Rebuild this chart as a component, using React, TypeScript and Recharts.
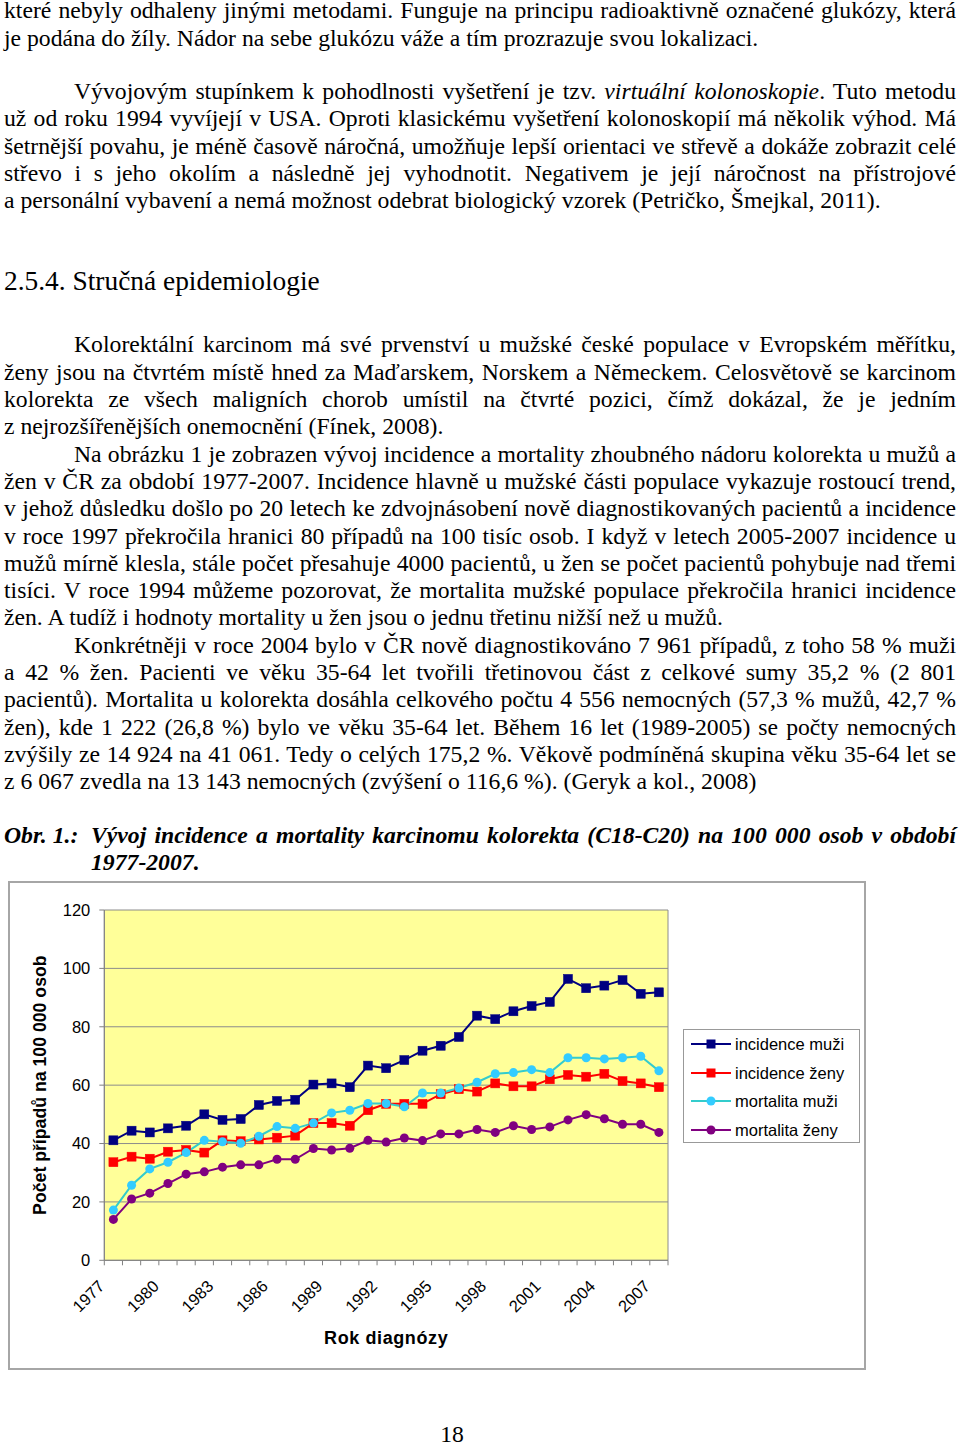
import React from 'react';
import { LineChart, Line, XAxis, YAxis, CartesianGrid, Legend } from 'recharts';

const years = ['1977','1978','1979','1980','1981','1982','1983','1984','1985','1986','1987','1988','1989','1990','1991','1992','1993','1994','1995','1996','1997','1998','1999','2000','2001','2002','2003','2004','2005','2006','2007'];
const incidenceMuzi = [41.1,44.4,43.8,45.2,46.1,50.0,48.1,48.4,53.2,54.6,55.0,60.2,60.6,59.3,66.7,65.8,68.6,71.8,73.5,76.5,83.8,82.6,85.3,87.1,88.5,96.4,93.2,94.1,96.0,91.3,91.8];
const incidenceZeny = [33.6,35.5,34.8,37.2,37.8,36.9,41.1,40.8,41.4,42.0,42.7,47.0,47.0,46.1,51.4,53.6,53.6,53.6,56.9,58.6,57.8,60.6,59.6,59.6,62.0,63.5,62.9,63.9,61.4,60.6,59.3];
const mortalitaMuzi = [17.2,25.7,31.3,33.6,36.9,41.1,40.6,40.1,42.5,45.8,45.2,47.0,50.5,51.4,53.7,53.7,52.6,57.3,57.3,59.0,61.0,63.9,64.3,65.3,64.3,69.4,69.4,69.0,69.4,69.9,64.9];
const mortalitaZeny = [14.0,21.0,23.0,26.3,29.5,30.3,31.9,32.7,32.7,34.6,34.6,38.3,37.8,38.4,41.1,40.5,41.9,41.0,43.3,43.3,44.8,43.8,46.1,44.8,45.7,48.1,49.9,48.5,46.6,46.6,43.8];
const yTicks = [0, 20, 40, 60, 80, 100, 120];
const seriesNames = ['incidence muži', 'incidence ženy', 'mortalita muži', 'mortalita ženy'];

const data = years.map((y, i) => ({
  year: y,
  im: incidenceMuzi[i],
  iz: incidenceZeny[i],
  mm: mortalitaMuzi[i],
  mz: mortalitaZeny[i],
}));

const SANS = '"Liberation Sans", Arial, sans-serif';
const SERIF = '"Liberation Serif", "Times New Roman", serif';

const PLOT_W = 564;
const HALF_BAND = PLOT_W / years.length / 2;

const seriesStyle = [
  { key: 'im', line: '#000080', marker: '#000080', shape: 'square' },
  { key: 'iz', line: '#FF0000', marker: '#FF0000', shape: 'square' },
  { key: 'mm', line: '#33CCCC', marker: '#33CCFF', shape: 'circle' },
  { key: 'mz', line: '#800080', marker: '#800080', shape: 'circle' },
];

const squareDot = (color: string) => (props: any) => {
  const { cx, cy, index } = props;
  if (cx == null || cy == null) return <g key={index} />;
  return <rect key={index} x={cx - 4.5} y={cy - 4.5} width={9} height={9} fill={color} stroke={color} strokeWidth={0.5} />;
};

const XTick = (props: any) => {
  const { x, y, payload, index } = props;
  const half = HALF_BAND;
  const left = x - half;
  const ax = x - 8;
  const ay = y + 22;
  return (
    <g>
      <line x1={left} y1={y - 5} x2={left} y2={y} stroke="#808080" strokeWidth={1} />
      {index === years.length - 1 ? (
        <line x1={x + half} y1={y - 5} x2={x + half} y2={y} stroke="#808080" strokeWidth={1} />
      ) : null}
      {index % 3 === 0 ? (
        <text x={ax} y={ay} transform={`rotate(-45 ${ax} ${ay})`} textAnchor="end" fontSize={16.5} fontFamily={SANS} fill="#000">
          {payload.value}
        </text>
      ) : null}
    </g>
  );
};

const LegendBox = () => (
  <div style={{ width: 177, height: 114, border: '1px solid #999', boxSizing: 'border-box', background: '#fff', fontFamily: SANS, fontSize: 16.5, color: '#000' }}>
    {seriesNames.map((n, i) => {
      const s = seriesStyle[i];
      return (
        <div key={n} style={{ height: 28.5, position: 'relative' }}>
          <svg width={50} height={28} style={{ position: 'absolute', left: 0, top: 0 }}>
            <line x1={7} y1={14} x2={47} y2={14} stroke={s.line} strokeWidth={2} />
            {s.shape === 'square' ? (
              <rect x={22.5} y={9.5} width={9} height={9} fill={s.marker} />
            ) : (
              <circle cx={27} cy={14} r={4.5} fill={s.marker} />
            )}
          </svg>
          <span style={{ position: 'absolute', left: 51, top: 0, lineHeight: '28px', whiteSpace: 'nowrap' }}>{n}</span>
        </div>
      );
    })}
  </div>
);

type TL = { y: number; text: React.ReactNode; indent?: boolean; last?: boolean };

const BODY = 23.7;
const BODY_STEP = 27.3;
const LH = 18;
const SHIFT = 2;
const topFor = (yc: number, fs: number) => yc + SHIFT - ((LH - 1.107 * fs) / 2 + 0.661 * fs);

const block1: TL[] = [
  { y: 11, text: 'které nebyly odhaleny jinými metodami. Funguje na principu radioaktivně označené glukózy, která' },
  { y: 38.3, text: 'je podána do žíly. Nádor na sebe glukózu váže a tím prozrazuje svou lokalizaci.', last: true },
  { y: 91.5, indent: true, text: <>Vývojovým stupínkem k pohodlnosti vyšetření je tzv. <i>virtuální kolonoskopie</i>. Tuto metodu</> },
  { y: 118.8, text: 'už od roku 1994 vyvíjejí v USA. Oproti klasickému vyšetření kolonoskopií má několik výhod. Má' },
  { y: 146.1, text: 'šetrnější povahu, je méně časově náročná, umožňuje lepší orientaci ve střevě a dokáže zobrazit celé' },
  { y: 173.4, text: 'střevo i s\u00a0jeho okolím a následně jej vyhodnotit. Negativem je její náročnost na přístrojové' },
  { y: 200.7, text: 'a personální vybavení a nemá možnost odebrat biologický vzorek (Petričko, Šmejkal, 2011).', last: true },
];

const block2Texts: { text: string; indent?: boolean; last?: boolean }[] = [
  { indent: true, text: 'Kolorektální karcinom má své prvenství u mužské české populace v\u00a0Evropském měřítku,' },
  { text: 'ženy jsou na čtvrtém místě hned za Maďarskem, Norskem a Německem. Celosvětově se karcinom' },
  { text: 'kolorekta ze všech maligních chorob umístil na čtvrté pozici, čímž dokázal, že je jedním' },
  { text: 'z\u00a0nejrozšířenějších onemocnění (Fínek, 2008).', last: true },
  { indent: true, text: 'Na obrázku 1 je zobrazen vývoj incidence a mortality zhoubného nádoru kolorekta u mužů a' },
  { text: 'žen v ČR za období 1977-2007. Incidence hlavně u mužské části populace vykazuje rostoucí trend,' },
  { text: 'v\u00a0jehož důsledku došlo po 20 letech ke zdvojnásobení nově diagnostikovaných pacientů a incidence' },
  { text: 'v roce 1997 překročila hranici 80 případů na 100 tisíc osob. I když v letech 2005-2007 incidence u' },
  { text: 'mužů mírně klesla, stále počet přesahuje 4000 pacientů, u žen se počet pacientů pohybuje nad třemi' },
  { text: 'tisíci. V roce 1994 můžeme pozorovat, že mortalita mužské populace překročila hranici incidence' },
  { text: 'žen. A tudíž i hodnoty mortality u žen jsou o jednu třetinu nižší než u mužů.', last: true },
  { indent: true, text: 'Konkrétněji v roce 2004 bylo v ČR nově diagnostikováno 7\u00a0961 případů, z toho 58 % muži' },
  { text: 'a 42 % žen. Pacienti ve věku 35-64 let tvořili třetinovou část z\u00a0celkové sumy 35,2 % (2\u00a0801' },
  { text: 'pacientů). Mortalita u kolorekta dosáhla celkového počtu 4\u00a0556 nemocných (57,3 % mužů, 42,7 %' },
  { text: 'žen), kde 1\u00a0222 (26,8 %) bylo ve věku 35-64 let. Během 16 let (1989-2005) se počty nemocných' },
  { text: 'zvýšily ze 14\u00a0924 na 41\u00a0061. Tedy o celých 175,2 %. Věkově podmíněná skupina věku 35-64 let se' },
  { text: 'z\u00a06\u00a0067 zvedla na 13\u00a0143 nemocných (zvýšení o 116,6 %). (Geryk a kol., 2008)', last: true },
];
const block2: TL[] = block2Texts.map((t, i) => ({ ...t, y: 345 + BODY_STEP * i }));

const TextLine = ({ l, fs = BODY, style }: { l: TL; fs?: number; style?: React.CSSProperties }) => {
  const left = l.indent ? 74 : 4;
  return (
    <div
      style={{
        position: 'absolute',
        left,
        top: topFor(l.y, fs),
        width: 956 - left,
        fontSize: fs,
        lineHeight: `${LH}px`,
        height: LH,
        fontFamily: SERIF,
        color: '#000',
        textAlign: l.last ? 'left' : 'justify',
        textAlignLast: l.last ? 'left' : 'justify',
        ...style,
      } as React.CSSProperties}
    >
      {l.text}
    </div>
  );
};

export default function App() {
  return (
    <div style={{ position: 'absolute', left: 0, top: 0, width: 960, height: 1446, background: '#fff', overflow: 'hidden' }}>
      {block1.map((l, i) => <TextLine key={'a' + i} l={l} />)}
      <TextLine l={{ y: 282, text: '2.5.4. Stručná epidemiologie', last: true }} fs={27.4} />
      {block2.map((l, i) => <TextLine key={'b' + i} l={l} />)}
      <div style={{ position: 'absolute', left: 4, top: topFor(836, BODY), fontSize: BODY, lineHeight: `${LH}px`, height: LH, fontFamily: SERIF, fontWeight: 'bold', fontStyle: 'italic' }}>Obr. 1.:</div>
      <TextLine l={{ y: 836, text: 'Vývoj incidence a mortality karcinomu kolorekta (C18-C20) na 100\u00a0000 osob v\u00a0období' }} style={{ left: 91, width: 865, fontWeight: 'bold', fontStyle: 'italic' }} />
      <TextLine l={{ y: 863, text: '1977-2007.', last: true }} style={{ left: 91, width: 865, fontWeight: 'bold', fontStyle: 'italic' }} />

      <div style={{ position: 'absolute', left: 8, top: 881, width: 858, height: 489, border: '2px solid #a6a6a6', boxSizing: 'border-box', background: '#fff' }} />
      <div style={{ position: 'absolute', left: 9, top: 882 }}>
        <LineChart width={856} height={487} data={data} margin={{ top: 28, right: 197, bottom: 0, left: 0 }}>
          <CartesianGrid
            fill="#FFFF99"
            fillOpacity={1}
            stroke="#8c8c8c"
            horizontal={true}
            vertical={true}
            verticalCoordinatesGenerator={({ offset }: any) => [offset.left, offset.left + offset.width]}
          />
          <XAxis
            dataKey="year"
            type="category"
            interval={0}
            height={108.7}
            padding={{ left: HALF_BAND, right: HALF_BAND }}
            tickSize={5}
            tickMargin={0}
            tickLine={false}
            axisLine={{ stroke: '#808080' }}
            tick={<XTick />}
            label={{ value: 'Rok diagnózy', position: 'insideBottom', offset: 25, style: { fontFamily: SANS, fontSize: 18, letterSpacing: 0.6, fontWeight: 'bold', fill: '#000' } }}
          />
          <YAxis
            type="number"
            domain={[0, 120]}
            ticks={yTicks}
            width={95.3}
            tickSize={5}
            tickMargin={9}
            tickLine={{ stroke: '#808080' }}
            axisLine={{ stroke: '#808080' }}
            tick={{ fill: '#000', fontSize: 16.5, fontFamily: SANS }}
            label={{ value: 'Počet případů na 100 000 osob', angle: -90, position: 'insideLeft', offset: 31, style: { fontFamily: SANS, fontSize: 17.7, fontWeight: 'bold', fill: '#000', textAnchor: 'middle' } }}
          />
          <Legend
            layout="vertical"
            align="center"
            verticalAlign="middle"
            content={() => <LegendBox />}
            wrapperStyle={{ position: 'absolute', left: 674, top: 147, width: 177, height: 114 }}
          />
          <Line type="linear" dataKey="im" name={seriesNames[0]} stroke={seriesStyle[0].line} strokeWidth={2} dot={squareDot(seriesStyle[0].marker)} isAnimationActive={false} />
          <Line type="linear" dataKey="iz" name={seriesNames[1]} stroke={seriesStyle[1].line} strokeWidth={2} dot={squareDot(seriesStyle[1].marker)} isAnimationActive={false} />
          <Line type="linear" dataKey="mm" name={seriesNames[2]} stroke={seriesStyle[2].line} strokeWidth={2} dot={{ r: 4.5, fill: seriesStyle[2].marker, stroke: seriesStyle[2].marker, strokeWidth: 0 }} isAnimationActive={false} />
          <Line type="linear" dataKey="mz" name={seriesNames[3]} stroke={seriesStyle[3].line} strokeWidth={2} dot={{ r: 4.5, fill: seriesStyle[3].marker, stroke: seriesStyle[3].marker, strokeWidth: 0 }} isAnimationActive={false} />
        </LineChart>
      </div>
      <div style={{ position: 'absolute', left: 0, width: 904, top: topFor(1435, BODY), fontSize: BODY, lineHeight: `${LH}px`, height: LH, fontFamily: SERIF, textAlign: 'center' }}>18</div>
    </div>
  );
}
